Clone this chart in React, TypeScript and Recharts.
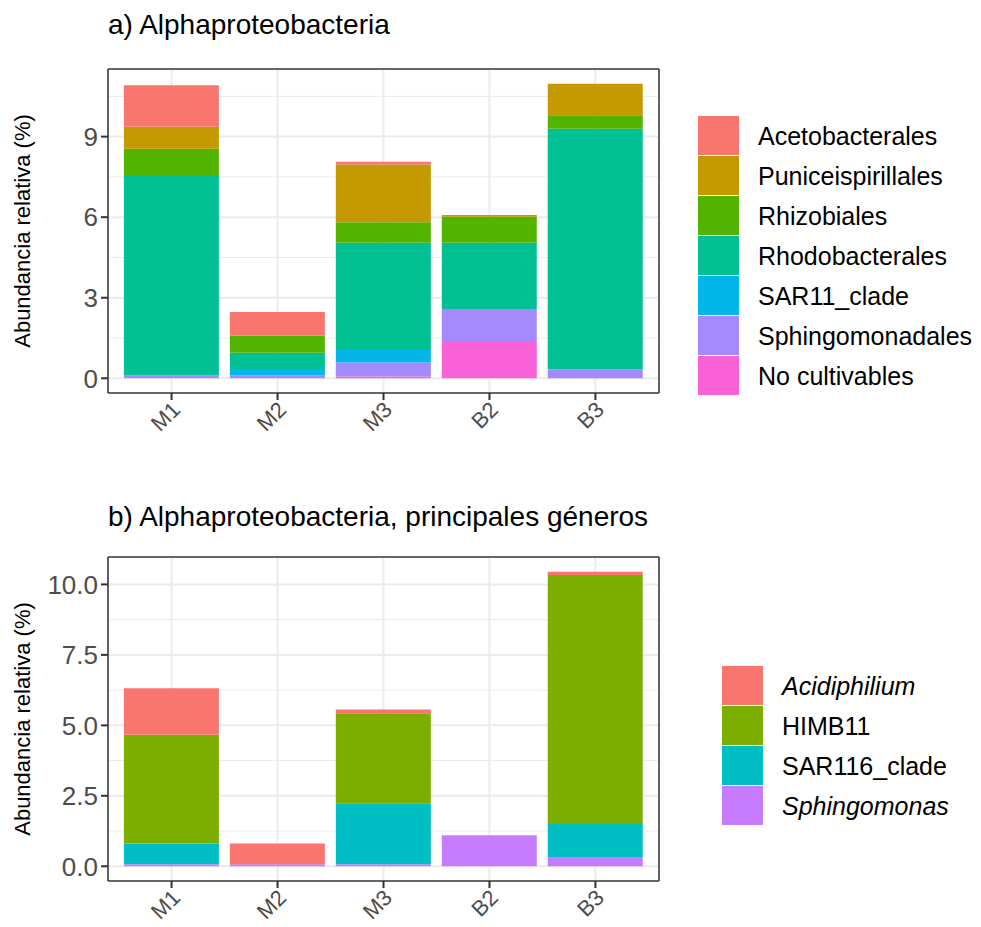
import { BarChart, Bar, XAxis, YAxis, CartesianGrid } from 'recharts'

const FONT = '"Liberation Sans", Arial, Helvetica, sans-serif'
const INK = '#333333'
const TICK_TEXT = '#4D4D4D'
const GRID = '#EBEBEB'

const samples = ['M1', 'M2', 'M3', 'B2', 'B3']

// a) orders (legend order, top of stack first)
const acetobacterales = [1.54, 0.88, 0.1, 0, 0]
const puniceispirillales = [0.82, 0, 2.15, 0.06, 1.17]
const rhizobiales = [1.02, 0.64, 0.76, 0.97, 0.51]
const rhodobacterales = [7.43, 0.6, 4.0, 2.47, 8.95]
const sar11Clade = [0, 0.25, 0.46, 0, 0]
const sphingomonadales = [0.1, 0.1, 0.52, 1.23, 0.34]
const noCultivables = [0, 0, 0.07, 1.35, 0]
const topTicks = [0, 3, 6, 9]

// b) main genera
const acidiphilium = [1.65, 0.74, 0.13, 0, 0.12]
const himb11 = [3.86, 0, 3.19, 0, 8.83]
const sar116Clade = [0.74, 0, 2.17, 0, 1.17]
const sphingomonas = [0.07, 0.07, 0.07, 1.1, 0.33]
const bottomTicks = [0, 2.5, 5, 7.5, 10]

type Series = { name: string; color: string; values: number[]; italic?: boolean }

const orderSeries: Series[] = [
  { name: 'Acetobacterales', color: '#F8766D', values: acetobacterales },
  { name: 'Puniceispirillales', color: '#C49A00', values: puniceispirillales },
  { name: 'Rhizobiales', color: '#53B400', values: rhizobiales },
  { name: 'Rhodobacterales', color: '#00C094', values: rhodobacterales },
  { name: 'SAR11_clade', color: '#00B6EB', values: sar11Clade },
  { name: 'Sphingomonadales', color: '#A58AFF', values: sphingomonadales },
  { name: 'No cultivables', color: '#FB61D7', values: noCultivables },
]

const genusSeries: Series[] = [
  { name: 'Acidiphilium', color: '#F8766D', values: acidiphilium, italic: true },
  { name: 'HIMB11', color: '#7CAE00', values: himb11 },
  { name: 'SAR116_clade', color: '#00BFC4', values: sar116Clade },
  { name: 'Sphingomonas', color: '#C77CFF', values: sphingomonas, italic: true },
]

function buildRows(series: Series[]) {
  return samples.map((sample, i) => {
    const row: Record<string, string | number> = { sample }
    series.forEach((s) => {
      row[s.name] = s.values[i]
    })
    return row
  })
}

function XTick({ x, y, payload }: any) {
  const ax = x + 10
  const ay = y + 9
  return (
    <text
      x={ax}
      y={ay}
      transform={`rotate(-45 ${ax} ${ay})`}
      textAnchor="end"
      fill={TICK_TEXT}
      fontSize={22}
      fontFamily={FONT}
    >
      {payload.value}
    </text>
  )
}

type PanelProps = {
  series: Series[]
  ticks: number[]
  digits: number
  top: number
}

function StackPanel({ series, ticks, digits, top }: PanelProps) {
  const rows = buildRows(series)
  const totals = samples.map((_, i) => series.reduce((acc, s) => acc + s.values[i], 0))
  const max = Math.max(...totals)
  const domain = [-0.05 * max, 1.05 * max]
  const step = ticks[1] - ticks[0]
  const minor = ticks.map((t) => t + step / 2).filter((v) => v < domain[1])
  const border = { stroke: INK, strokeWidth: 1.5 }

  return (
    <div style={{ position: 'absolute', left: 0, top }}>
      <BarChart
        width={680}
        height={438}
        data={rows}
        margin={{ top: 68, right: 20, bottom: 0, left: 0 }}
        barCategoryGap="5%"
      >
        <CartesianGrid stroke={GRID} strokeWidth={1} vertical={false} horizontalValues={minor} />
        <CartesianGrid stroke={GRID} strokeWidth={2} horizontalValues={ticks} />
        <XAxis
          dataKey="sample"
          interval={0}
          height={45}
          padding={{ left: 10.6, right: 10.6 }}
          axisLine={border}
          tickLine={{ stroke: INK, strokeWidth: 2 }}
          tickSize={7}
          tickMargin={2}
          tick={<XTick />}
        />
        <XAxis
          xAxisId="top"
          dataKey="sample"
          orientation="top"
          height={1}
          padding={{ left: 10.6, right: 10.6 }}
          axisLine={border}
          tick={false}
          tickLine={false}
        />
        <YAxis
          type="number"
          domain={domain}
          ticks={ticks}
          width={108}
          axisLine={border}
          tickLine={{ stroke: INK, strokeWidth: 2 }}
          tickSize={7}
          tickMargin={3}
          tickFormatter={(v: number) => v.toFixed(digits)}
          tick={{ fill: TICK_TEXT, fontSize: 26, fontFamily: FONT }}
        />
        <YAxis
          yAxisId="right"
          orientation="right"
          type="number"
          domain={domain}
          width={1}
          axisLine={border}
          tick={false}
          tickLine={false}
        />
        {series
          .slice()
          .reverse()
          .map((s) => (
            <Bar key={s.name} dataKey={s.name} stackId="stack" fill={s.color} isAnimationActive={false} />
          ))}
      </BarChart>
    </div>
  )
}

function KeyLegend({ series, left, top, gap }: { series: Series[]; left: number; top: number; gap: number }) {
  return (
    <div style={{ position: 'absolute', left, top, fontFamily: FONT }}>
      {series.map((s) => (
        <div key={s.name} style={{ display: 'flex', alignItems: 'center', height: 40 }}>
          <div style={{ width: 41, height: 39, background: s.color, marginBottom: 1 }} />
          <span
            style={{
              marginLeft: gap,
              fontSize: 25,
              color: '#000',
              fontStyle: s.italic ? 'italic' : 'normal',
              whiteSpace: 'nowrap',
            }}
          >
            {s.name}
          </span>
        </div>
      ))}
    </div>
  )
}

export default function App() {
  return (
    <div
      style={{
        position: 'absolute',
        left: 0,
        top: 0,
        width: 981,
        height: 927,
        background: '#fff',
        overflow: 'hidden',
      }}
    >
      <StackPanel series={orderSeries} ticks={topTicks} digits={0} top={0} />
      <StackPanel series={genusSeries} ticks={bottomTicks} digits={1} top={488} />
      <KeyLegend series={orderSeries} left={698} top={116} gap={19} />
      <KeyLegend series={genusSeries} left={722} top={666} gap={19} />
      <svg
        width={981}
        height={927}
        style={{ position: 'absolute', left: 0, top: 0, pointerEvents: 'none' }}
        fontFamily={FONT}
      >
        <text x={108} y={34} fontSize={28} fill="#000">
          a) Alphaproteobacteria
        </text>
        <text x={108} y={526} fontSize={28} fill="#000">
          b) Alphaproteobacteria, principales géneros
        </text>
        <text transform="translate(30 231) rotate(-90)" textAnchor="middle" fontSize={22} fill="#000">
          Abundancia relativa (%)
        </text>
        <text transform="translate(30 719) rotate(-90)" textAnchor="middle" fontSize={22} fill="#000">
          Abundancia relativa (%)
        </text>
      </svg>
    </div>
  )
}
